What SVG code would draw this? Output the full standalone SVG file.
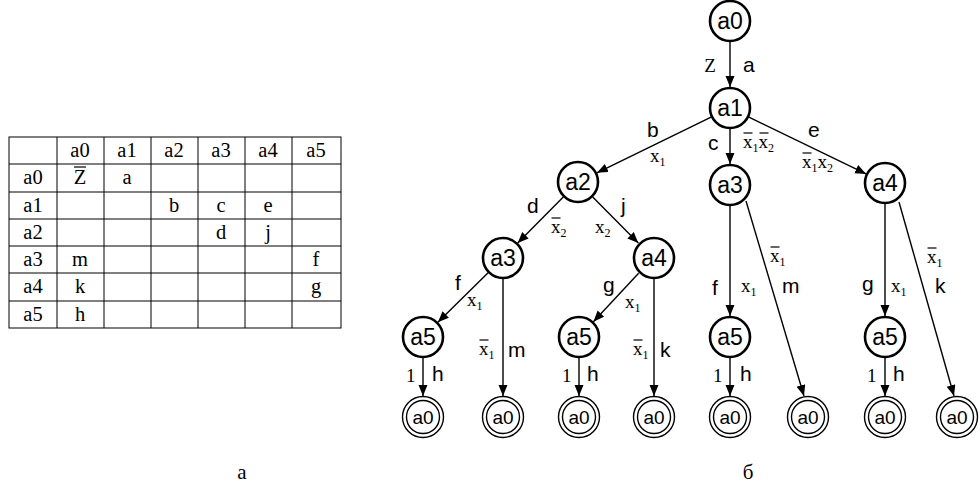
<svg xmlns="http://www.w3.org/2000/svg" width="980" height="498" viewBox="0 0 980 498">
<defs>
<marker id="ar" markerUnits="userSpaceOnUse" markerWidth="12" markerHeight="10" refX="11" refY="4.5" orient="auto">
<path d="M0,0 L11,4.5 L0,9 Z" fill="#000"/>
</marker>
</defs>
<style>
.tb{font-family:"Liberation Serif","Times New Roman",serif;font-size:20.5px;text-anchor:middle;fill:#000}
.grid line,.grid rect{stroke:#000;stroke-width:1;fill:none}
.n circle{fill:#fff;stroke:#000;stroke-width:2.6}
.n text{font-family:"Liberation Sans",Arial,sans-serif;font-size:23px;text-anchor:middle}
.f circle{fill:#fff;stroke:#000;stroke-width:1.4}
.f text{font-family:"Liberation Sans",Arial,sans-serif;font-size:19px;text-anchor:middle}
.e line{stroke:#000;stroke-width:1.4;marker-end:url(#ar)}
.l{font-family:"Liberation Sans",Arial,sans-serif;font-size:21px}
.v{font-family:"Liberation Serif","Times New Roman",serif;font-size:19px}
.s{font-size:12px}
.bar{stroke:#000;stroke-width:1.2}
.cap{font-family:"Liberation Serif","Times New Roman",serif;font-size:21px;text-anchor:middle}
</style>

<g id="table">
<g class="grid">
<rect x="9" y="137" width="332" height="191"/>
<line x1="57" y1="137" x2="57" y2="328"/>
<line x1="104" y1="137" x2="104" y2="328"/>
<line x1="151" y1="137" x2="151" y2="328"/>
<line x1="198" y1="137" x2="198" y2="328"/>
<line x1="245" y1="137" x2="245" y2="328"/>
<line x1="292" y1="137" x2="292" y2="328"/>
<line x1="9" y1="164" x2="341" y2="164"/>
<line x1="9" y1="192" x2="341" y2="192"/>
<line x1="9" y1="219" x2="341" y2="219"/>
<line x1="9" y1="246" x2="341" y2="246"/>
<line x1="9" y1="273" x2="341" y2="273"/>
<line x1="9" y1="301" x2="341" y2="301"/>
</g>
<g class="tb">
<text x="80" y="157">a0</text><text x="127" y="157">a1</text><text x="174" y="157">a2</text><text x="221" y="157">a3</text><text x="268" y="157">a4</text><text x="316" y="157">a5</text>
<text x="33" y="184">a0</text><text x="80" y="184">Z</text><text x="127" y="184">a</text>
<text x="33" y="212">a1</text><text x="174" y="212">b</text><text x="221" y="212">c</text><text x="268" y="212">e</text>
<text x="33" y="239">a2</text><text x="221" y="239">d</text><text x="268" y="239">j</text>
<text x="33" y="266">a3</text><text x="80" y="266">m</text><text x="316" y="266">f</text>
<text x="33" y="293">a4</text><text x="80" y="293">k</text><text x="316" y="293">g</text>
<text x="33" y="321">a5</text><text x="80" y="321">h</text>
</g>
<line class="bar" x1="74" y1="167" x2="86" y2="167"/>
</g>

<g id="connectors" class="e">
<line x1="730" y1="42" x2="730" y2="87"/>
<line x1="711.1" y1="117.2" x2="596.9" y2="172.8"/>
<line x1="730" y1="129" x2="730" y2="164"/>
<line x1="748.9" y1="117.1" x2="866.1" y2="173.9"/>
<line x1="563.3" y1="196.9" x2="517.7" y2="243.1"/>
<line x1="592.7" y1="196.9" x2="638.3" y2="243.1"/>
<line x1="488.1" y1="272.8" x2="437.9" y2="322.3"/>
<line x1="503" y1="279" x2="503" y2="396"/>
<line x1="638.6" y1="273.3" x2="593.4" y2="321.7"/>
<line x1="654" y1="279" x2="654" y2="396"/>
<line x1="423" y1="358" x2="423" y2="396"/>
<line x1="579" y1="358" x2="579" y2="396"/>
<line x1="730" y1="206" x2="730" y2="316"/>
<line x1="730" y1="358" x2="730" y2="396"/>
<line x1="746" y1="201" x2="804" y2="396"/>
<line x1="885" y1="204" x2="885" y2="316"/>
<line x1="885" y1="358" x2="885" y2="396"/>
<line x1="899" y1="202" x2="954" y2="396"/>
</g>

<g id="edge-labels">
<text class="v" x="710" y="72" text-anchor="middle">Z</text>
<text class="l" x="743" y="72">a</text>
<text class="l" x="647" y="137">b</text>
<text class="v" x="650" y="162">x<tspan class="s" dy="4">1</tspan></text>
<text class="l" x="708" y="150">c</text>
<text class="v" x="743" y="148">x<tspan class="s" dy="4">1</tspan><tspan dy="-4">x</tspan><tspan class="s" dy="4">2</tspan></text>
<line class="bar" x1="743.5" y1="133" x2="752.5" y2="133"/>
<line class="bar" x1="759.5" y1="133" x2="768.5" y2="133"/>
<text class="l" x="808" y="137">e</text>
<text class="v" x="802" y="168">x<tspan class="s" dy="4">1</tspan><tspan dy="-4">x</tspan><tspan class="s" dy="4">2</tspan></text>
<line class="bar" x1="802.5" y1="153" x2="811.5" y2="153"/>
<text class="l" x="527" y="213">d</text>
<text class="v" x="551" y="233">x<tspan class="s" dy="4">2</tspan></text>
<line class="bar" x1="551.5" y1="218" x2="560.5" y2="218"/>
<text class="l" x="621" y="213">j</text>
<text class="v" x="595" y="233">x<tspan class="s" dy="4">2</tspan></text>
<text class="l" x="455" y="290">f</text>
<text class="v" x="467" y="306">x<tspan class="s" dy="4">1</tspan></text>
<text class="v" x="479" y="355">x<tspan class="s" dy="4">1</tspan></text>
<line class="bar" x1="479.5" y1="340" x2="488.5" y2="340"/>
<text class="l" x="508" y="357">m</text>
<text class="l" x="603" y="292">g</text>
<text class="v" x="625" y="308">x<tspan class="s" dy="4">1</tspan></text>
<text class="v" x="633" y="355">x<tspan class="s" dy="4">1</tspan></text>
<line class="bar" x1="633.5" y1="340" x2="642.5" y2="340"/>
<text class="l" x="660" y="357">k</text>
<text class="v" x="406" y="382">1</text><text class="l" x="432" y="381">h</text>
<text class="v" x="562" y="382">1</text><text class="l" x="587" y="381">h</text>
<text class="v" x="713" y="382">1</text><text class="l" x="740" y="381">h</text>
<text class="v" x="867" y="382">1</text><text class="l" x="893" y="381">h</text>
<text class="l" x="712" y="295">f</text>
<text class="v" x="741" y="292">x<tspan class="s" dy="4">1</tspan></text>
<text class="v" x="770" y="262">x<tspan class="s" dy="4">1</tspan></text>
<line class="bar" x1="770.5" y1="247" x2="779.5" y2="247"/>
<text class="l" x="782" y="293">m</text>
<text class="l" x="862" y="291">g</text>
<text class="v" x="891" y="292">x<tspan class="s" dy="4">1</tspan></text>
<text class="v" x="927" y="263">x<tspan class="s" dy="4">1</tspan></text>
<line class="bar" x1="927.5" y1="248" x2="936.5" y2="248"/>
<text class="l" x="935" y="293">k</text>
</g>

<g id="n-a0" class="n"><circle cx="730" cy="21" r="20"/><text x="730" y="29">a0</text></g>
<g id="n-a1" class="n"><circle cx="730" cy="108" r="20"/><text x="730" y="116">a1</text></g>
<g id="n-a2" class="n"><circle cx="578" cy="182" r="20"/><text x="578" y="190">a2</text></g>
<g id="n-a3-mid" class="n"><circle cx="730" cy="185" r="20"/><text x="730" y="193">a3</text></g>
<g id="n-a4-right" class="n"><circle cx="885" cy="183" r="20"/><text x="885" y="191">a4</text></g>
<g id="n-a3-left" class="n"><circle cx="503" cy="258" r="20"/><text x="503" y="266">a3</text></g>
<g id="n-a4-mid" class="n"><circle cx="654" cy="258" r="20"/><text x="654" y="266">a4</text></g>
<g id="n-a5-1" class="n"><circle cx="423" cy="337" r="20"/><text x="423" y="345">a5</text></g>
<g id="n-a5-2" class="n"><circle cx="579" cy="337" r="20"/><text x="579" y="345">a5</text></g>
<g id="n-a5-3" class="n"><circle cx="730" cy="337" r="20"/><text x="730" y="345">a5</text></g>
<g id="n-a5-4" class="n"><circle cx="885" cy="337" r="20"/><text x="885" y="345">a5</text></g>
<g id="f-1" class="f"><circle cx="423" cy="417" r="20.5"/><circle cx="423" cy="417" r="16.5"/><text x="423" y="424">a0</text></g>
<g id="f-2" class="f"><circle cx="503" cy="417" r="20.5"/><circle cx="503" cy="417" r="16.5"/><text x="503" y="424">a0</text></g>
<g id="f-3" class="f"><circle cx="579" cy="417" r="20.5"/><circle cx="579" cy="417" r="16.5"/><text x="579" y="424">a0</text></g>
<g id="f-4" class="f"><circle cx="654" cy="417" r="20.5"/><circle cx="654" cy="417" r="16.5"/><text x="654" y="424">a0</text></g>
<g id="f-5" class="f"><circle cx="730" cy="417" r="20.5"/><circle cx="730" cy="417" r="16.5"/><text x="730" y="424">a0</text></g>
<g id="f-6" class="f"><circle cx="808" cy="417" r="20.5"/><circle cx="808" cy="417" r="16.5"/><text x="808" y="424">a0</text></g>
<g id="f-7" class="f"><circle cx="885" cy="417" r="20.5"/><circle cx="885" cy="417" r="16.5"/><text x="885" y="424">a0</text></g>
<g id="f-8" class="f"><circle cx="957" cy="417" r="20.5"/><circle cx="957" cy="417" r="16.5"/><text x="957" y="424">a0</text></g>

<text class="cap" x="242" y="479">а</text>
<text class="cap" x="748" y="479">б</text>
</svg>
